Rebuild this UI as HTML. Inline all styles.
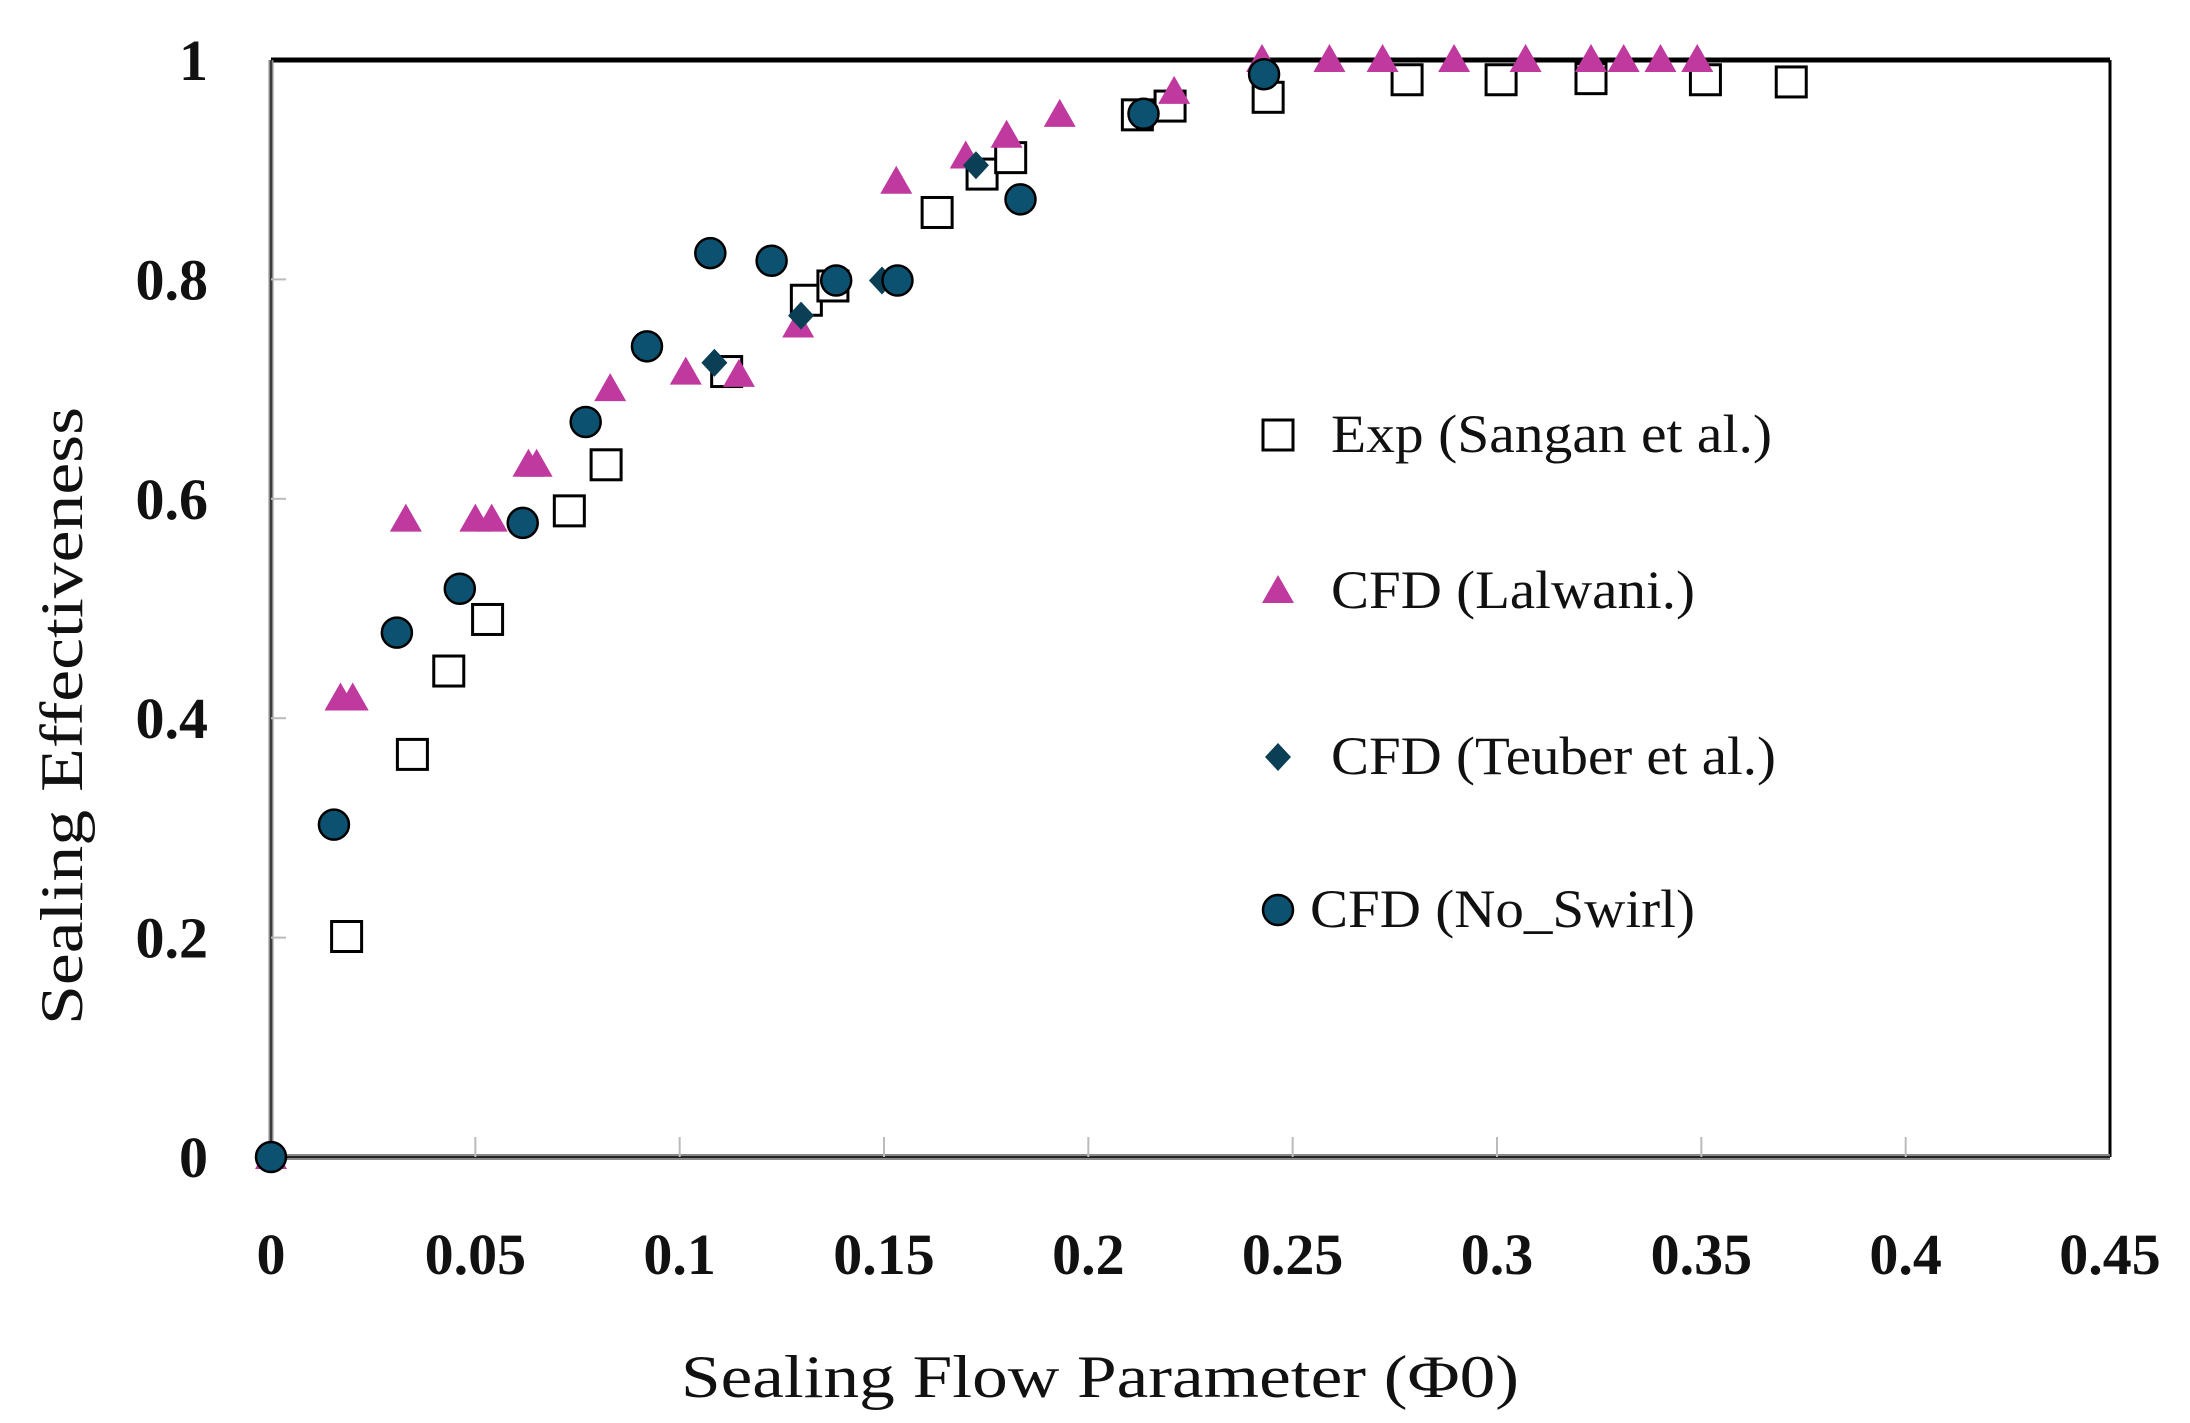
<!DOCTYPE html>
<html><head><meta charset="utf-8"><style>
html,body{margin:0;padding:0;background:#fff}
svg{display:block}
text{font-family:"Liberation Serif",serif;fill:#111}
</style></head><body>
<svg id="chart" width="2190" height="1423" viewBox="0 0 2190 1423" xmlns="http://www.w3.org/2000/svg">
<g id="axes"></g>
<g id="marks"></g>
<g id="legend"></g>
</svg>
<script>
const xTicks=[0,0.05,0.1,0.15,0.2,0.25,0.3,0.35,0.4,0.45];
const xTickLabels=["0","0.05","0.1","0.15","0.2","0.25","0.3","0.35","0.4","0.45"];
const yTicks=[0,0.2,0.4,0.6,0.8,1];
const yTickLabels=["0","0.2","0.4","0.6","0.8","1"];
const expX=[0.0185,0.0346,0.0435,0.053,0.073,0.082,0.1115,0.131,0.1375,0.163,0.174,0.181,0.212,0.22,0.244,0.278,0.301,0.323,0.351,0.372];
const expY=[0.201,0.367,0.443,0.49,0.589,0.631,0.716,0.781,0.794,0.861,0.896,0.911,0.950,0.958,0.966,0.982,0.982,0.983,0.982,0.980];
const lalX=[0,0.017,0.020,0.033,0.05,0.054,0.063,0.065,0.083,0.1015,0.1145,0.129,0.153,0.170,0.18,0.193,0.221,0.2425,0.259,0.272,0.2895,0.307,0.323,0.331,0.34,0.349];
const lalY=[0,0.418,0.418,0.581,0.581,0.581,0.631,0.631,0.70,0.715,0.713,0.758,0.889,0.912,0.931,0.950,0.971,1,1,1,1,1,1,1,1,1];
const teuX=[0.1085,0.1297,0.1495,0.1725];
const teuY=[0.724,0.767,0.799,0.904];
const nsX=[0,0.0154,0.0308,0.0462,0.0616,0.077,0.092,0.1075,0.1225,0.1383,0.1533,0.1834,0.2135,0.243];
const nsY=[0,0.303,0.478,0.518,0.578,0.67,0.739,0.824,0.817,0.799,0.799,0.873,0.951,0.987];
const legendLabels=["Exp (Sangan et al.)","CFD (Lalwani.)","CFD (Teuber et al.)","CFD (No_Swirl)"];
const legendWidths=[441,364,445,385];

const L=271,R=2110,T=60,B=1157;
const sx=v=>L+(v/0.45)*(R-L);
const sy=v=>B-v*(B-T);
const NS="http://www.w3.org/2000/svg";
function mk(parent,tag,attrs){const e=document.createElementNS(NS,tag);for(const k in attrs)e.setAttribute(k,attrs[k]);parent.appendChild(e);return e;}
const axes=document.getElementById('axes'),marks=document.getElementById('marks'),legend=document.getElementById('legend');

let e;
e=mk(axes,'line',{x1:L,y1:T,x2:R,y2:T,stroke:'#000','stroke-width':5});


e=mk(axes,'line',{x1:R,y1:T,x2:R,y2:B,stroke:'#000','stroke-width':3});


e=mk(axes,'line',{x1:L,y1:T,x2:L,y2:B,stroke:'#888','stroke-width':5});


mk(axes,'line',{x1:L,y1:T,x2:L,y2:B,stroke:'#222','stroke-width':1.5});
e=mk(axes,'line',{x1:L,y1:B,x2:R,y2:B,stroke:'#888','stroke-width':6});


mk(axes,'line',{x1:L,y1:B,x2:R,y2:B,stroke:'#222','stroke-width':2});

xTicks.forEach((v,i)=>{
  if(i>0&&i<xTicks.length-1){const t=mk(axes,'line',{x1:sx(v),y1:B-20,x2:sx(v),y2:B,stroke:'#bbb','stroke-width':2});
  
  }
  const tx=mk(axes,'text',{x:sx(v),y:1274,'text-anchor':'middle','font-size':58,'font-weight':'bold'});
  tx.textContent=xTickLabels[i];
  
  
});
yTicks.forEach((v,i)=>{
  if(i>0&&i<yTicks.length-1){const t=mk(axes,'line',{x1:L,y1:sy(v),x2:L+15,y2:sy(v),stroke:'#bbb','stroke-width':2});
  
  }
  const tx=mk(axes,'text',{x:208,y:sy(v)+20,'text-anchor':'end','font-size':58,'font-weight':'bold'});
  tx.textContent=yTickLabels[i];
  
  
});
e=mk(axes,'text',{x:1100,y:1397,'text-anchor':'middle','font-size':60,textLength:838,lengthAdjust:'spacingAndGlyphs'});
e.textContent='Sealing Flow Parameter (Φ0)';


e=mk(axes,'text',{x:0,y:0,'text-anchor':'middle','font-size':60,textLength:618,lengthAdjust:'spacingAndGlyphs',transform:'translate(82,716) rotate(-90)'});
e.textContent='Sealing Effectiveness';



function square(g,x,y){return mk(g,'rect',{x:x-15,y:y-15,width:30,height:30,fill:'#fff',stroke:'#000','stroke-width':3});}
function tri(g,x,y){return mk(g,'polygon',{points:`${x},${y-16} ${x+16},${y+12} ${x-16},${y+12}`,fill:'#c0399f'});}
function dia(g,x,y){return mk(g,'polygon',{points:`${x},${y-14} ${x+13},${y} ${x},${y+14} ${x-13},${y}`,fill:'#0b3f55'});}
function circ(g,x,y){return mk(g,'circle',{cx:x,cy:y,r:15,fill:'#0d5170',stroke:'#000','stroke-width':2.5});}

expX.forEach((v,i)=>{const m=square(marks,sx(v),sy(expY[i]));

});
lalX.forEach((v,i)=>{const m=tri(marks,sx(v),sy(lalY[i]));

});
teuX.forEach((v,i)=>{const m=dia(marks,sx(v),sy(teuY[i]));

});
nsX.forEach((v,i)=>{const m=circ(marks,sx(v),sy(nsY[i]));

});

const ly=[435,591,757,910];
const lfun=[square,tri,dia,circ];
const ltx=[1331,1331,1331,1310];
legendLabels.forEach((s,i)=>{
  const m=lfun[i](legend,1278,ly[i]);
  
  
  const t=mk(legend,'text',{x:ltx[i],y:ly[i]+17,'font-size':54,textLength:legendWidths[i],lengthAdjust:'spacingAndGlyphs'});
  t.textContent=s;
  
  
});
</script>
</body></html>
